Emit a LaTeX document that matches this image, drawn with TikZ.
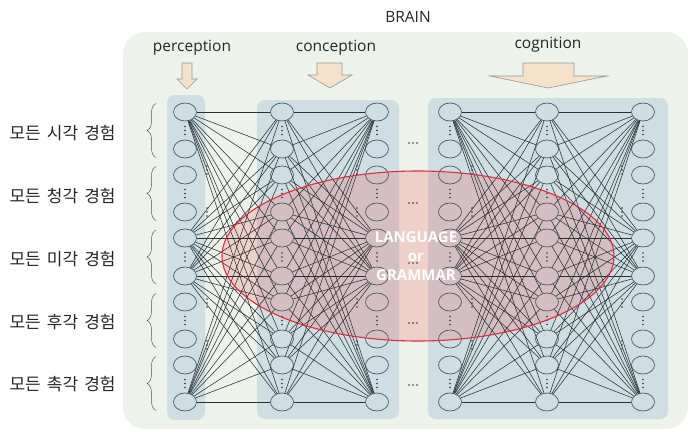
\documentclass[tikz,border=0pt]{standalone}
\usepackage{fontspec}
\setmainfont{Open Sans}
\newfontfamily\kr[WordSpace=1.6]{Noto Sans CJK KR}
\usetikzlibrary{shapes.geometric,decorations.pathreplacing}
\definecolor{bgc}{RGB}{237,243,234}
\definecolor{panelc}{RGB}{206,222,227}
\definecolor{nodec}{RGB}{75,90,105}
\definecolor{edgec}{RGB}{40,50,52}
\definecolor{arrowf}{RGB}{246,226,200}
\definecolor{arrowd}{RGB}{150,150,150}
\definecolor{redc}{RGB}{232,40,60}
\begin{document}
\begin{tikzpicture}[x=1pt,y=-1pt,
  neuron/.style={ellipse,draw=nodec,line width=0.7pt,minimum width=23pt,minimum height=18pt,inner sep=0pt},
  conn/.style={draw=edgec,line width=0.55pt},
  panel/.style={fill=panelc,rounded corners=8pt},
  blockarrow/.style={fill=arrowf,draw=arrowd,line width=0.6pt},
  lbl/.style={font=\fontsize{15.5}{18}\selectfont,text=black!85},
  krlbl/.style={font=\kr\fontsize{17}{19}\selectfont,anchor=west,text=black!85},
  sbrace/.style={decorate,decoration={brace,amplitude=9pt},line width=0.5pt,draw=black!65}]
\useasboundingbox (0,0) rectangle (689,431);
% background
\fill[bgc,rounded corners=22pt] (123,32) rectangle (688,429);
% panels
\fill[panel] (167,95) rectangle (205,420);
\fill[panel] (257,100) rectangle (399,419);
\fill[panel] (428,98) rectangle (668,419);
% ellipse fill
\fill[red,fill opacity=0.14] (418,256) ellipse [x radius=196pt, y radius=85pt];
% neurons
\foreach \c/\x in {P/185,A/282,B/377,D/450,E/547,F/643}{
  \foreach \y [count=\i from 0] in {112,149,175,212,238,276,302,339,365,402}{
    \node[neuron] (\c\i) at (\x,\y) {};
  }
  \foreach \y in {130.5,193.5,257,320.5,383.5}{
    \foreach \d in {-4,0,4}{ \fill[black!80] (\x,\y+\d) circle (0.9pt); }
  }
}
% connections
\foreach \h in {0,4,5,9}{
  \foreach \j in {0,...,9}{
    \draw[conn] (P\h) -- (A\j);
    \draw[conn] (A\j) -- (B\h);
    \draw[conn] (D\h) -- (E\j);
    \draw[conn] (E\j) -- (F\h);
  }
}
% side dots
\foreach \x in {207,357,472,622}{
  \foreach \y in {170,212,303,345}{
    \foreach \d in {-4,0,4}{ \fill[black!80] (\x,\y+\d) circle (0.9pt); }
  }
}
% horizontal dots between panels
\foreach \y in {143,203,263,323,385}{
  \foreach \d in {-4,0,4}{ \fill[black!80] (413+\d,\y) circle (0.9pt); }
}
% ellipse outline
\draw[redc,line width=1.1pt] (418,256) ellipse [x radius=196pt, y radius=85pt];
% block arrows
\draw[blockarrow] (182,63) -- (192,63) -- (192,79) -- (197,79) -- (187,89) -- (177,79) -- (182,79) -- cycle;
\draw[blockarrow] (317,63) -- (342,63) -- (342,75) -- (352,75) -- (330,88) -- (308,75) -- (317,75) -- cycle;
\draw[blockarrow] (523,63) -- (574,63) -- (574,76) -- (607,76) -- (548,88) -- (490,76) -- (523,76) -- cycle;
% titles
\node[lbl] (brain) at (408,17) {BRAIN};
\node[lbl] (perc) at (192,48) {perception};
\node[lbl] (conc) at (336,48) {conception};
\node[lbl] (cogn) at (548,45) {cognition};
\node[font=\bfseries\fontsize{15}{19}\selectfont,text=white,align=center] (lang) at (416,256) {LANGUAGE\\or\\GRAMMAR};
% korean labels
\node[krlbl] (k1) at (6,133) {모든 시각 경험};
\node[krlbl] (k2) at (6,196) {모든 청각 경험};
\node[krlbl] (k3) at (6,259) {모든 미각 경험};
\node[krlbl] (k4) at (6,322) {모든 후각 경험};
\node[krlbl] (k5) at (6,384) {모든 촉각 경험};
% braces
\foreach \c in {130.5,193.5,257,320.5,383.5}{
  \draw[sbrace] (156,\c+27) -- (156,\c-27);
}
\end{tikzpicture}
\end{document}
